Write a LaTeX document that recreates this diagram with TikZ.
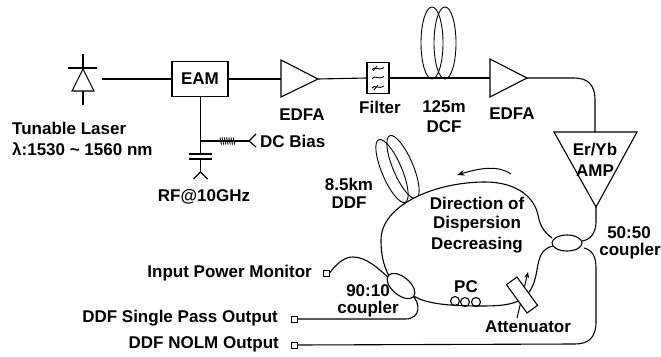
\documentclass[tikz,border=0pt]{standalone}
\usepackage{fontspec}
\setmainfont{Liberation Sans}
\usepackage{tikz}
\usetikzlibrary{
    arrows.meta,
    shapes.geometric
}

\begin{document}
\begin{tikzpicture}[
    x=1pt, y=-1pt,
    >=Stealth,
    fiber/.style={draw=black, line width=1.1pt},
    coil/.style={draw=black, line width=0.9pt},
    lbl/.style={font=\fontsize{17}{18}\bfseries\selectfont, inner sep=0pt, align=center},
    amp/.style={fiber, line join=miter},
    port/.style={draw=black, line width=1pt, fill=white, minimum size=6pt, inner sep=0pt},
    coupler/.style={draw=black, line width=1.1pt, fill=white, ellipse, minimum width=30pt, minimum height=16pt, inner sep=0pt},
    box/.style={draw=black, line width=1.1pt, fill=white, inner sep=0pt}
]
\useasboundingbox (0,0) rectangle (661,356);

% ==================== LASER ====================
\coordinate (laser_top) at (83,54);
\coordinate (laser_bot) at (83,105);
\coordinate (laser_out) at (102,79);
\draw[fiber] (laser_top) -- (laser_bot);
\draw[fiber] (68,68) -- (97,68);
\draw[fiber, fill=white] (83,69) -- (72,91) -- (94,91) -- cycle;
\node[lbl, anchor=west] (laser_name) at (12,128) {Tunable Laser};
\node[lbl, anchor=west] (laser_range) at (12,149) {λ:1530 \textasciitilde{} 1560 nm};

% ==================== MODULATOR ====================
\node[box, minimum width=56pt, minimum height=35pt] (eam) at (200,79) {\fontsize{17}{18}\bfseries\selectfont EAM};
\draw[fiber] (laser_out) -- (eam.west);

\coordinate (bias_join) at (200.5,141);
\coordinate (bias_end) at (249,141);
\coordinate (cap_top) at (200.5,154);
\coordinate (cap_bot) at (200.5,159);
\coordinate (rf_end) at (200.5,172);
\draw[fiber] (eam.south -| bias_join) -- (cap_top);
\draw[fiber] (189,154) -- (212,154);
\draw[fiber] (189,159) -- (212,159);
\draw[fiber] (cap_bot) -- (rf_end);
\draw[fiber] (193.5,179) -- (rf_end) -- (207.5,179);
\draw[fiber] (bias_join) -- (bias_end);
\draw[fiber] (256,134) -- (bias_end) -- (256,147);
\foreach \i in {0,...,6} {
    \draw[line width=0.9pt] ({220+2.2*\i},137.5) -- ({221.5+2.2*\i},144.5);
}
\node[lbl, anchor=west] (dc_bias) at (260,141) {DC Bias};
\node[lbl] (rf_label) at (204,197) {RF@10GHz};

% ==================== UPPER LINE ====================
\coordinate (edfa_a_in) at (281,79);
\coordinate (edfa_a_out) at (318,79);
\draw[amp] (281,60) -- (edfa_a_out) -- (281,97) -- cycle;
\draw[fiber] (eam.east) -- (edfa_a_in);
\node[lbl] (edfa_a_label) at (302,115) {EDFA};

\node[box, minimum width=22pt, minimum height=31pt] (filter) at (378,78) {};
\draw[fiber] (edfa_a_out) -- (filter.west);
\foreach \yy in {68.5,77.5,87} {
    \draw[line width=0.9pt] (372,\yy+1) .. controls (375,\yy-3) and (379,\yy+3) .. (384,\yy-1);
}
\draw[line width=0.8pt] (373,71) -- (377,66) (374,90) -- (378,85);
\node[lbl] (filter_label) at (380,107) {Filter};

\coordinate (edfa_b_in) at (490,78);
\coordinate (edfa_b_out) at (527,78);
\draw[fiber] (filter.east) -- (edfa_b_in);
\draw[amp] (490,59) -- (edfa_b_out) -- (490,97) -- cycle;
\draw[coil] (432,43) ellipse (11 and 36);
\draw[coil] (445,43) ellipse (11 and 36);
\node[lbl] (dcf_len) at (444,107) {125m};
\node[lbl] (dcf_name) at (444,127) {DCF};
\node[lbl] (edfa_b_label) at (512,114) {EDFA};

% ==================== ER/YB AMP ====================
\coordinate (amp_in) at (595,132);
\coordinate (amp_out) at (596,207);
\draw[amp] (554,132) -- (637,132) -- (amp_out) -- cycle;
\draw[fiber] (edfa_b_out) -- (574,78) .. controls (588,78) and (595,85) .. (595,100) -- (amp_in);
\node[lbl] (amp_name) at (595,150) {Er/Yb};
\node[lbl] (amp_name2) at (595,171) {AMP};

% ==================== LOOP ====================
\node[port] (port_a) at (326,273) {};
\node[port] (port_b) at (294,319) {};
\node[port] (port_c) at (294,345) {};
\node[lbl, anchor=east] (port_a_label) at (312,273) {Input Power Monitor};
\node[lbl, anchor=east] (port_b_label) at (278,318) {DDF Single Pass Output};
\node[lbl, anchor=east] (port_c_label) at (279,344) {DDF NOLM Output};

\draw[coil, rotate around={23:(392,171)}] (392,171) ellipse (10 and 34);
\draw[coil, rotate around={23:(403,167)}] (403,167) ellipse (10 and 34);
\node[lbl] (ddf_len) at (349,184) {8.5km};
\node[lbl] (ddf_name) at (349,203) {DDF};

\draw[fiber, fill=white] (552,238) .. controls (544,232) and (540,226) .. (538,215)
    .. controls (534,196) and (515,182) .. (485,182)
    .. controls (435,182) and (381,205) .. (381,240)
    .. controls (381,258) and (385,270) .. (391,279);
\draw[line width=1pt, ->] (511,174) .. controls (498,165) and (480,168) .. (457,175);

\node[lbl] (dir_a) at (477,203) {Direction of};
\node[lbl] (dir_b) at (477,224) {Dispersion};
\node[lbl] (dir_c) at (477,245) {Decreasing};

\draw[fiber] (port_a.east) .. controls (338,262) and (345,257) .. (353,257)
    .. controls (366,257) and (378,268) .. (390,279);
\draw[fiber] (412,295) .. controls (425,304) and (450,306) .. (480,306)
    .. controls (505,306) and (525,305) .. (533,285)
    .. controls (540,268) and (535,250) .. (553,246);
\draw[fiber] (412,295) .. controls (420,302) and (422,319) .. (405,319) -- (port_b.east);
\draw[fiber] (584,248) .. controls (592,250) and (596,256) .. (596,268) -- (596,322)
    .. controls (596,338) and (588,344) .. (575,344) -- (port_c.east);
\draw[fiber] (amp_out) -- (596,222) .. controls (596,233) and (590,240) .. (582,241);

\node[coupler] (coupler_b) at (567,243) {};
\node[coupler, rotate=-40, minimum width=33pt, minimum height=18pt] (coupler_a) at (401,286) {};
\node[lbl] (coupler_a_ratio) at (368,291) {90:10};
\node[lbl] (coupler_a_name) at (368,309) {coupler};
\node[lbl] (coupler_b_ratio) at (629,233) {50:50};
\node[lbl] (coupler_b_name) at (630,251) {coupler};

% ==================== PC AND ATTENUATOR ====================
\foreach \cx/\cy in {455/301,465/302,476/302} {
    \draw[fiber] (\cx,\cy) circle (4.5);
}
\node[lbl] (pc_label) at (466,287) {PC};

\draw[line width=1pt, -{Stealth[length=6pt,width=5pt]}] (517,318) -- (528,272);
\node[box, rotate=-54, minimum width=35pt, minimum height=13pt] (atten) at (522,295) {};
\node[lbl] (atten_label) at (528,327) {Attenuator};
\end{tikzpicture}
\end{document}
